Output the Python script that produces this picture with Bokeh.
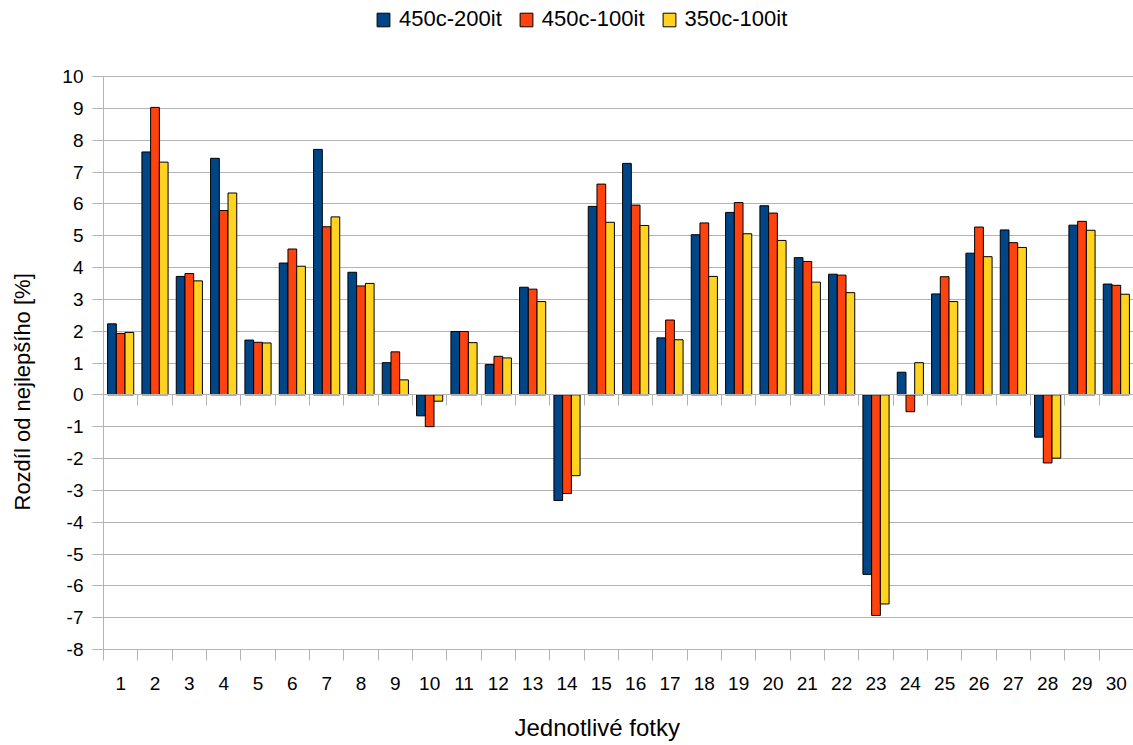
import numpy as np
from bokeh.plotting import figure
from bokeh.models import (ColumnDataSource, Range1d, FixedTicker, LinearAxis,
                          Legend, LegendItem, Title)
from bokeh.transform import dodge
from bokeh.embed import file_html
from bokeh.resources import INLINE

# ---- data -------------------------------------------------------------
categories = [str(i) for i in range(1, 31)]
s450c_200it = [2.23, 7.63, 3.72, 7.43, 1.72, 4.14, 7.71, 3.85, 1.01, -0.66,
               1.99, 0.95, 3.38, -3.32, 5.92, 7.27, 1.79, 5.03, 5.73, 5.94,
               4.31, 3.79, -5.64, 0.71, 3.17, 4.45, 5.18, -1.33, 5.33, 3.48]
s450c_100it = [1.93, 9.03, 3.81, 5.79, 1.65, 4.58, 5.28, 3.42, 1.35, -1.00,
               1.99, 1.21, 3.32, -3.10, 6.62, 5.96, 2.35, 5.40, 6.04, 5.71,
               4.19, 3.76, -6.93, -0.53, 3.71, 5.27, 4.78, -2.14, 5.45, 3.44]
s350c_100it = [1.96, 7.31, 3.58, 6.34, 1.63, 4.04, 5.59, 3.50, 0.47, -0.20,
               1.64, 1.16, 2.93, -2.54, 5.42, 5.32, 1.73, 3.72, 5.06, 4.85,
               3.54, 3.21, -6.57, 1.01, 2.93, 4.34, 4.63, -1.99, 5.17, 3.16]
series_names = ["450c-200it", "450c-100it", "350c-100it"]
y_ticks = list(range(-8, 11))
y_tick_labels = [str(v) for v in y_ticks]
x_title = "Jednotlivé fotky"
y_title = "Rozdíl od nejlepšího [%]"

# ---- styling ----------------------------------------------------------
colors = ["#004586", "#ff420e", "#ffd320"]
FONT = "Liberation Sans"
GRID = "#b3b3b3"
n = len(categories)
xs = list(range(1, n + 1))
bounds = [i + 0.5 for i in range(0, n + 1)]
bw = 0.254
ymin, ymax = y_ticks[0], y_ticks[-1]
px_per_unit = 573.0 / (ymax - ymin)
frame_h = 745 - 96
y_top = ymin + frame_h / px_per_unit   # extra room above the grid for the legend

source = ColumnDataSource(dict(x=xs, a=s450c_200it, b=s450c_100it, c=s350c_100it))

p = figure(width=1133, height=745, output_backend="svg", toolbar_location=None,
           x_range=Range1d(0.5, n + 0.5), y_range=Range1d(ymin, y_top),
           min_border_left=103, min_border_right=0, min_border_top=0,
           min_border_bottom=96, background_fill_color="white",
           border_fill_color="white")
p.outline_line_color = None

renderers = []
for col, off, colr in zip(["a", "b", "c"], [-bw, 0.0, bw], colors):
    r = p.vbar(x=dodge("x", off), top=col, bottom=0, width=bw, source=source,
               fill_color=colr, line_color="black", line_width=1)
    renderers.append(r)

# x axis (bottom) : labels at centers, ticks at category boundaries
xa = p.xaxis[0]
xa.ticker = FixedTicker(ticks=xs, minor_ticks=bounds)
xa.major_label_overrides = {x: c for x, c in zip(xs, categories)}
xa.major_tick_out = 0
xa.major_tick_in = 0
xa.minor_tick_out = 11
xa.minor_tick_in = 0
xa.minor_tick_line_color = GRID
xa.axis_line_color = GRID
xa.major_label_standoff = 16
xa.major_label_text_font = FONT
xa.major_label_text_font_size = "19px"
xa.major_label_text_color = "black"

# axis crossing at zero with category ticks
za = LinearAxis(fixed_location=0, ticker=FixedTicker(ticks=[], minor_ticks=bounds),
                major_label_text_font_size="0px", axis_line_color=GRID,
                minor_tick_in=11, minor_tick_out=0, minor_tick_line_color=GRID,
                major_tick_in=0, major_tick_out=0)
p.add_layout(za, "above")

ya = p.yaxis[0]
ya.ticker = FixedTicker(ticks=y_ticks)
ya.major_label_overrides = {v: s for v, s in zip(y_ticks, y_tick_labels)}
ya.bounds = (ymin, ymax)
ya.major_tick_out = 11
ya.major_tick_in = 0
ya.major_tick_line_color = GRID
ya.axis_line_color = GRID
ya.major_label_standoff = 9
ya.major_label_text_font = FONT
ya.major_label_text_font_size = "19px"
ya.major_label_text_color = "black"

# right border of the plot area
ra = LinearAxis(ticker=FixedTicker(ticks=[]), bounds=(ymin, ymax),
                axis_line_color=GRID, major_tick_out=0, major_tick_in=0,
                major_label_text_font_size="0px")
p.add_layout(ra, "right")

p.xgrid.visible = False
p.ygrid.ticker = FixedTicker(ticks=y_ticks)
p.ygrid.grid_line_color = GRID
p.ygrid.grid_line_width = 1

legend = Legend(items=[LegendItem(label=nm, renderers=[r]) for nm, r in zip(series_names, renderers)],
                orientation="horizontal", location=(272, 617),
                glyph_width=16, glyph_height=17, label_standoff=8, spacing=16,
                padding=0, margin=0, border_line_color=None,
                background_fill_alpha=0,
                label_text_font=FONT, label_text_font_size="22px",
                label_text_color="black")
p.add_layout(legend, "center")

# left: spacer then title (stacked outward from the axis)
p.add_layout(Title(text=" ", text_font_size="10px", standoff=7), "left")
p.add_layout(Title(text=y_title, align="left", offset=139, standoff=10,
                   text_font=FONT, text_font_size="22px", text_font_style="normal",
                   text_color="black"), "left")
# bottom: spacer then title
p.add_layout(Title(text=" ", text_font_size="10px", standoff=4), "below")
p.add_layout(Title(text=x_title, align="left", offset=411, standoff=4,
                   text_font=FONT, text_font_size="24px", text_font_style="normal",
                   text_color="black"), "below")

open("out.html", "w").write(file_html(p, INLINE))
